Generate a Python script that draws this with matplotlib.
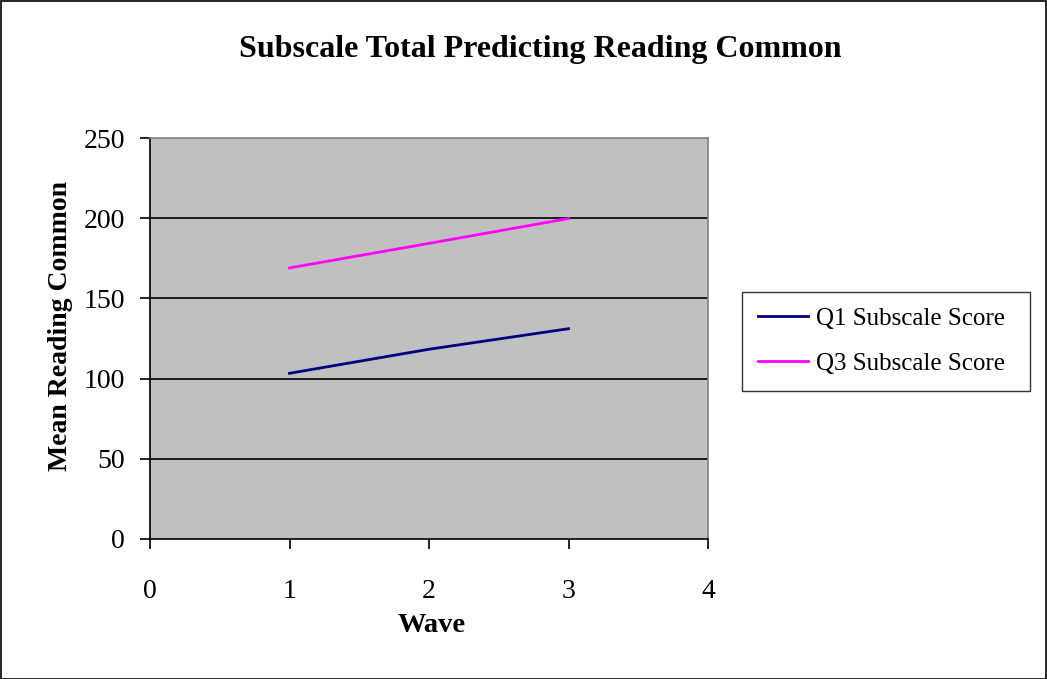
import matplotlib
matplotlib.use("Agg")
import matplotlib.pyplot as plt
from matplotlib.patches import Rectangle

waves = [1, 2, 3]
q1_scores = [103.3, 118.3, 131.1]
q3_scores = [169.0, 184.3, 199.8]
series_names = ["Q1 Subscale Score", "Q3 Subscale Score"]
series_colors = ["#000080", "#FF00FF"]
x_ticks = [0, 1, 2, 3, 4]
y_ticks = [0, 50, 100, 150, 200, 250]

plt.rcParams["font.family"] = ["Liberation Serif", "DejaVu Serif"]

W, H = 1047, 679
fig = plt.figure(figsize=(W / 100, H / 100), dpi=100)
fig.patch.set_facecolor("white")

# outer chart border
fig.add_artist(Rectangle((0.5 / W, 0.5 / H), 1 - 1.5 / W, 1 - 1.5 / H,
                         transform=fig.transFigure, fill=False,
                         edgecolor="black", linewidth=1.2))

ax = fig.add_axes([150 / W, (H - 539) / H, 558 / W, 401 / H])
ax.set_facecolor("#C0C0C0")

for vals, name, col in zip([q1_scores, q3_scores], series_names, series_colors):
    ax.plot(waves, vals, color=col, linewidth=2.0, label=name, zorder=3)

ax.set_xlim(0, 4)
ax.set_ylim(0, 250)
ax.set_xticks(x_ticks)
ax.set_yticks(y_ticks)
ax.tick_params(direction="out", length=7, width=1.2, labelsize=20,
               colors="black")
ax.tick_params(axis="y", pad=11)
ax.tick_params(axis="x", pad=22)

for y in y_ticks[1:-1]:
    ax.axhline(y, color="black", linewidth=1.2, zorder=1)

for side in ("left", "bottom"):
    ax.spines[side].set_color("black")
    ax.spines[side].set_linewidth(1.2)
for side in ("top", "right"):
    ax.spines[side].set_color("#808080")
    ax.spines[side].set_linewidth(1.2)

ax.set_xlabel("Wave", fontsize=20.5, fontweight="bold")
ax.set_ylabel("Mean Reading Common", fontsize=20, fontweight="bold")
ax.xaxis.set_label_coords((432 - 150) / 558, (539 - 613) / 401)
ax.yaxis.set_label_coords((73 - 150) / 558, (539 - 326) / 401)

fig.text(540 / W, 1 - 49 / H, "Subscale Total Predicting Reading Common",
         ha="center", va="center", fontsize=23, fontweight="bold")

# legend box spans a fixed width to the right of the plot
leg = fig.legend(loc="upper left", mode="expand",
                 bbox_to_anchor=(742 / W, (H - 385) / H, 288 / W, 93 / H),
                 bbox_transform=fig.transFigure, frameon=True, fancybox=False,
                 edgecolor="black", fontsize=18, handlelength=2.0,
                 handletextpad=0.35, labelspacing=0.9, borderpad=0.62,
                 borderaxespad=0)
leg.get_frame().set_linewidth(1.0)

fig.savefig("out.png", dpi=100, facecolor="white")
